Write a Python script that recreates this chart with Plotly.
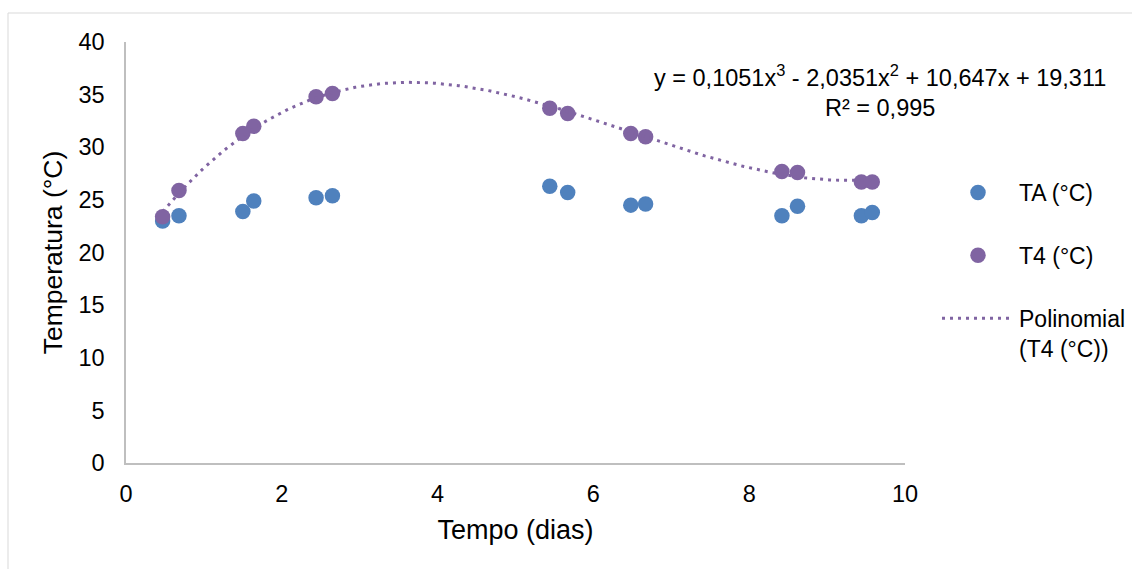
import numpy as np
import plotly.graph_objects as go

# ---- data ----
tempo = [0.47, 0.68, 1.50, 1.64, 2.44, 2.65, 5.44, 5.67, 6.48, 6.67, 8.42, 8.62, 9.44, 9.58]
ta = [23.0, 23.5, 23.9, 24.9, 25.2, 25.4, 26.3, 25.7, 24.5, 24.6, 23.5, 24.4, 23.5, 23.8]
t4 = [23.4, 25.9, 31.3, 32.0, 34.8, 35.1, 33.7, 33.2, 31.3, 31.0, 27.7, 27.6, 26.7, 26.7]
# trendline coefficients as printed on the chart (highest power first)
poly_coef = [0.1051, -2.0351, 10.647, 19.311]
eq_text = "y = 0,1051x<sup>3</sup> - 2,0351x<sup>2</sup> + 10,647x + 19,311<br>R² = 0,995"

x_ticks = [0, 2, 4, 6, 8, 10]
y_ticks = [0, 5, 10, 15, 20, 25, 30, 35, 40]

BLUE = "#4F81BD"
PURPLE = "#8064A2"
FONT = "Liberation Sans, Arial, sans-serif"

W, H = 1132, 569
ML, MR, MT, MB = 126, 227, 42, 106
PW = W - ML - MR
PH = H - MT - MB


def px_x(p):
    return (p - ML) / PW


def px_y(p):
    return (H - MB - p) / PH


xt = np.linspace(min(tempo), max(tempo), 200)
yt = np.polyval(poly_coef, xt)

fig = go.Figure()
fig.add_trace(go.Scatter(x=tempo, y=ta, mode="markers", name="TA (°C)",
                         legendgroup="a",
                         marker=dict(color=BLUE, size=15.5, line=dict(width=0))))
fig.add_trace(go.Scatter(x=tempo, y=t4, mode="markers", name="T4 (°C)",
                         legendgroup="b",
                         marker=dict(color=PURPLE, size=15.5, line=dict(width=0))))
fig.add_trace(go.Scatter(x=xt, y=yt, mode="lines", name="Polinomial<br>(T4 (°C))",
                         legendgroup="c",
                         line=dict(color=PURPLE, width=3, dash="3px,5px")))

fig.add_annotation(text=eq_text, xref="paper", yref="paper",
                   x=px_x(880), y=px_y(91), xanchor="center", yanchor="middle",
                   showarrow=False, align="center",
                   font=dict(family=FONT, size=23.5, color="#000000"))

# outer chart-area frame
fig.add_shape(type="rect", xref="paper", yref="paper",
              x0=px_x(8), x1=px_x(1145), y0=px_y(585), y1=px_y(13),
              line=dict(color="#D9D9D9", width=1), fillcolor="rgba(0,0,0,0)",
              layer="below")

fig.update_layout(
    width=W, height=H,
    margin=dict(l=ML, r=MR, t=MT, b=MB),
    paper_bgcolor="white", plot_bgcolor="white",
    font=dict(family=FONT, size=23, color="#000000"),
    showlegend=True,
    legend=dict(xref="container", yref="container",
                x=937 / W, y=1 - 171 / H, xanchor="left", yanchor="top",
                font=dict(family=FONT, size=23, color="#000000"),
                tracegroupgap=30, valign="top", itemwidth=72,
                bgcolor="rgba(0,0,0,0)"),
    xaxis=dict(range=[0, 10], tickvals=x_ticks, showgrid=False, zeroline=False,
               showline=True, linecolor="#BFBFBF", linewidth=1.5, ticks="",
               ticklabelstandoff=9,
               tickfont=dict(family=FONT, size=23.5, color="#000000"),
               title=dict(text="Tempo (dias)", standoff=14,
                          font=dict(family=FONT, size=27, color="#000000"))),
    yaxis=dict(range=[0, 40], tickvals=y_ticks, showgrid=False, zeroline=False,
               showline=True, linecolor="#BFBFBF", linewidth=1.5, ticks="",
               ticklabelstandoff=15,
               tickfont=dict(family=FONT, size=23.5, color="#000000"),
               title=dict(text="Temperatura (°C)", standoff=8,
                          font=dict(family=FONT, size=26.5, color="#000000"))),
)

fig.write_html("out.html")
